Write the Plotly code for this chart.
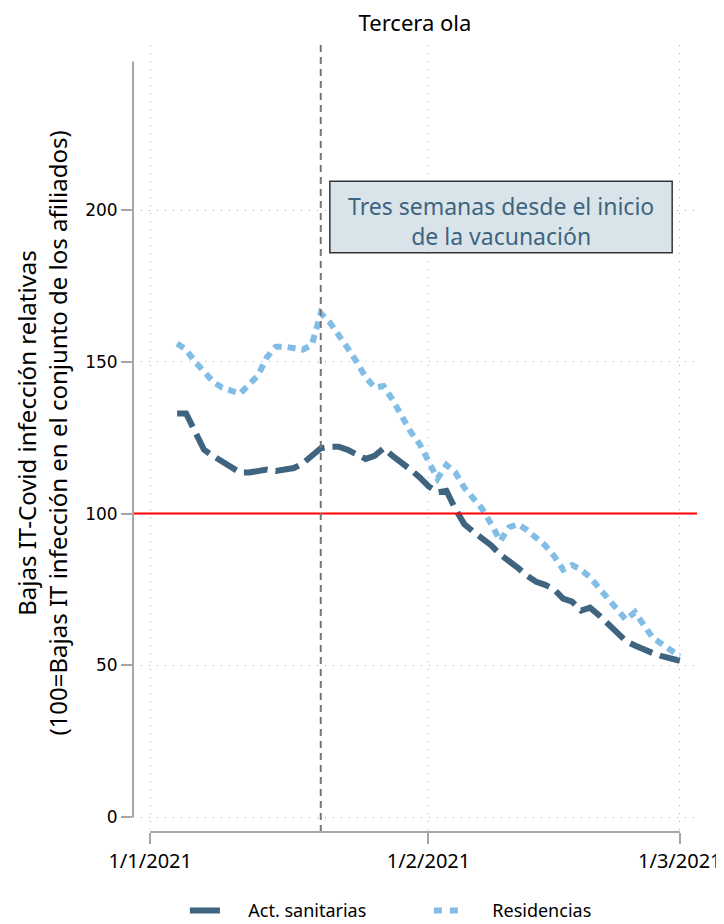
import plotly.graph_objects as go
import pandas as pd

# datos diarios (4/1/2021 - 1/3/2021)
fechas = pd.date_range('2021-01-04', '2021-03-01', freq='D')
act_sanitarias = [133, 133, 127, 121, 119, 117, 115, 113.5, 113.5, 114, 114.5, 114, 114.5, 115,
                  116.5, 119, 121.5, 122, 122, 121, 119.5, 118, 119, 121.5, 119, 117, 114.5, 112,
                  109, 107, 107.5, 101.5, 96.5, 94, 92, 89.5, 86.5, 84.5, 82, 79.5, 77.5, 76.5,
                  75, 72, 71, 68, 69, 66.5, 63.5, 60.5, 58, 56.5, 55, 54, 53, 52.5, 51.5]
residencias = [156, 154, 150, 146.5, 143.5, 141.5, 140.5, 139.5, 142.5, 145.5, 151.5, 155, 155,
               154.5, 154, 155.5, 166, 163, 159, 154.5, 150, 145, 141.5, 142, 137.5, 132, 127,
               123, 117, 111.5, 116, 113.5, 108.5, 105, 101.5, 96.5, 91, 95.5, 96.5, 94.5, 92,
               89.5, 86, 81.5, 83, 81.5, 79, 75.5, 72, 68, 65, 67.5, 63.5, 59, 57, 55, 53]

ticks_x = ['2021-01-01', '2021-02-01', '2021-03-01']
ticks_y = [0, 50, 100, 150, 200]
fecha_vacuna = '2021-01-20'   # tres semanas desde el inicio de la vacunación
referencia = 100

OSCURO = '#3e6480'
CLARO = '#82bde6'
GRIS = '#a6a6a6'
FUENTE = 'Noto Sans'
ESP = '\u00a0' * 5  # separación entre símbolo y texto en la leyenda

fig = go.Figure()

fig.add_trace(go.Scatter(x=fechas, y=act_sanitarias, mode='lines', showlegend=False,
                         line=dict(color=OSCURO, width=6, dash='24px,8px')))
fig.add_trace(go.Scatter(x=fechas, y=residencias, mode='lines', showlegend=False,
                         line=dict(color=CLARO, width=6, dash='8px,6px')))
# entradas de la leyenda
fig.add_trace(go.Scatter(x=[None], y=[None], mode='lines', name=ESP + 'Act. sanitarias',
                         line=dict(color=OSCURO, width=6)))
fig.add_trace(go.Scatter(x=[None], y=[None], mode='lines', name=ESP + 'Residencias',
                         line=dict(color=CLARO, width=6, dash='8px,8px')))

# línea de referencia y línea vertical
fig.add_shape(type='line', xref='paper', x0=0, x1=1, y0=referencia, y1=referencia,
              line=dict(color='red', width=2))
fig.add_shape(type='line', x0=fecha_vacuna, x1=fecha_vacuna, yref='paper', y0=0, y1=1,
              line=dict(color='#777777', width=2, dash='7px,5px'))
# ejes al estilo Stata
fig.add_shape(type='line', xref='paper', x0=0, x1=0, y0=0, y1=249,
              line=dict(color=GRIS, width=2))
fig.add_shape(type='line', x0=ticks_x[0], x1=ticks_x[-1], yref='paper', y0=0, y1=0,
              line=dict(color=GRIS, width=2))

# recuadro
fig.add_shape(type='rect', xref='paper', yref='paper', x0=0.349, x1=0.956, y0=0.736, y1=0.827,
              fillcolor='#d9e4ea', line=dict(color='#333333', width=1.5), layer='above')
fig.add_annotation(xref='paper', yref='paper', x=0.6525, y=0.776, xanchor='center',
                   yanchor='middle', showarrow=False,
                   text='Tres semanas desde el inicio<br>de la vacunación',
                   font=dict(family=FUENTE, size=23, color=OSCURO))

# título del eje y
fig.add_annotation(xref='paper', yref='paper', x=-0.162, y=0.507, xanchor='center',
                   yanchor='middle', showarrow=False, textangle=-90,
                   text='Bajas IT-Covid infección relativas<br>'
                        '(100=Bajas IT infección en el conjunto de los afiliados)',
                   font=dict(family=FUENTE, size=24, color='black'))

# la página html añade 8px de margen al body
fig.update_layout(
    width=716, height=916,
    margin=dict(l=125, r=27, t=37, b=92, autoexpand=False),
    paper_bgcolor='white', plot_bgcolor='white',
    title=dict(text='Tercera ola', x=0.5, xref='paper', y=1 - 15 / 916, yanchor='middle',
               font=dict(family=FUENTE, size=22, color='black')),
    xaxis=dict(range=['2020-12-30 02:00', '2021-03-02 22:00'], tickvals=ticks_x,
               tickformat='%-d/%-m/%Y', ticks='outside', ticklen=11, tickcolor=GRIS, tickwidth=2,
               showline=False, zeroline=False, showgrid=True, gridcolor='#b0b0b0',
               griddash='1px,7px', gridwidth=1,
               tickfont=dict(family=FUENTE, size=20, color='black')),
    yaxis=dict(range=[-4.94, 254.4], tickvals=ticks_y, ticks='outside', ticklen=11,
               tickcolor=GRIS, tickwidth=2, showline=False, zeroline=False, showgrid=True,
               gridcolor='#b0b0b0', griddash='1px,7px', gridwidth=1,
               tickfont=dict(family='DejaVu Sans', size=17, color='black')),
    legend=dict(orientation='h', x=0.092, xanchor='left', y=-0.1, yanchor='middle',
                entrywidth=199, font=dict(family=FUENTE, size=18, color='black')),
)

fig.write_html('out.html')
